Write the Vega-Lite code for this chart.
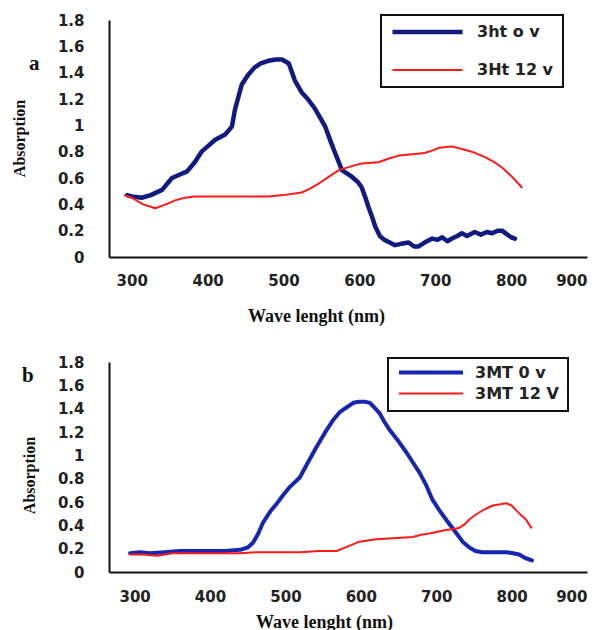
{
  "$schema": "https://vega.github.io/schema/vega-lite/v6.json",
  "background": "white",
  "padding": {"left": 10, "top": 13, "right": 5, "bottom": 5},
  "bounds": "flush",
  "spacing": 105,
  "config": {
    "view": {"stroke": null},
    "axis": {
      "grid": false,
      "ticks": false,
      "domainColor": "#111111",
      "domainWidth": 2,
      "labelFont": "DejaVu Sans",
      "labelFontWeight": "bold",
      "labelFontSize": 15,
      "labelColor": "#222222",
      "titleFont": "Liberation Serif",
      "titleFontWeight": "bold",
      "titleColor": "#111111"
    },
    "legend": {
      "labelFont": "DejaVu Sans",
      "labelFontWeight": "bold",
      "labelFontSize": 16,
      "labelColor": "#222222",
      "strokeWidth": 2
    }
  },
  "resolve": {
    "scale": {"x": "independent", "y": "independent", "color": "independent", "strokeWidth": "independent"},
    "legend": {"color": "independent", "strokeWidth": "independent"}
  },
  "datasets": {
    "A": [
      {"s": "3ht o v", "w": 294, "v": 0.47}, {"s": "3ht o v", "w": 300, "v": 0.46}, {"s": "3ht o v", "w": 313, "v": 0.45},
      {"s": "3ht o v", "w": 325, "v": 0.47}, {"s": "3ht o v", "w": 340, "v": 0.51}, {"s": "3ht o v", "w": 353, "v": 0.60},
      {"s": "3ht o v", "w": 365, "v": 0.63}, {"s": "3ht o v", "w": 373, "v": 0.65}, {"s": "3ht o v", "w": 383, "v": 0.72},
      {"s": "3ht o v", "w": 392, "v": 0.80}, {"s": "3ht o v", "w": 400, "v": 0.84}, {"s": "3ht o v", "w": 410, "v": 0.89},
      {"s": "3ht o v", "w": 423, "v": 0.93}, {"s": "3ht o v", "w": 432, "v": 0.99}, {"s": "3ht o v", "w": 436, "v": 1.12},
      {"s": "3ht o v", "w": 445, "v": 1.31}, {"s": "3ht o v", "w": 453, "v": 1.38}, {"s": "3ht o v", "w": 462, "v": 1.44},
      {"s": "3ht o v", "w": 470, "v": 1.47}, {"s": "3ht o v", "w": 480, "v": 1.49}, {"s": "3ht o v", "w": 490, "v": 1.50},
      {"s": "3ht o v", "w": 498, "v": 1.50}, {"s": "3ht o v", "w": 507, "v": 1.47}, {"s": "3ht o v", "w": 515, "v": 1.34},
      {"s": "3ht o v", "w": 524, "v": 1.25}, {"s": "3ht o v", "w": 532, "v": 1.20}, {"s": "3ht o v", "w": 541, "v": 1.13},
      {"s": "3ht o v", "w": 548, "v": 1.06}, {"s": "3ht o v", "w": 555, "v": 0.99}, {"s": "3ht o v", "w": 562, "v": 0.88},
      {"s": "3ht o v", "w": 568, "v": 0.79}, {"s": "3ht o v", "w": 577, "v": 0.66}, {"s": "3ht o v", "w": 585, "v": 0.63},
      {"s": "3ht o v", "w": 590, "v": 0.61}, {"s": "3ht o v", "w": 598, "v": 0.57}, {"s": "3ht o v", "w": 603, "v": 0.53},
      {"s": "3ht o v", "w": 608, "v": 0.45}, {"s": "3ht o v", "w": 612, "v": 0.38}, {"s": "3ht o v", "w": 617, "v": 0.30},
      {"s": "3ht o v", "w": 621, "v": 0.23}, {"s": "3ht o v", "w": 627, "v": 0.16}, {"s": "3ht o v", "w": 633, "v": 0.13},
      {"s": "3ht o v", "w": 640, "v": 0.11}, {"s": "3ht o v", "w": 647, "v": 0.09}, {"s": "3ht o v", "w": 655, "v": 0.10},
      {"s": "3ht o v", "w": 665, "v": 0.11}, {"s": "3ht o v", "w": 672, "v": 0.08}, {"s": "3ht o v", "w": 678, "v": 0.08},
      {"s": "3ht o v", "w": 686, "v": 0.11}, {"s": "3ht o v", "w": 696, "v": 0.14}, {"s": "3ht o v", "w": 703, "v": 0.13},
      {"s": "3ht o v", "w": 709, "v": 0.15}, {"s": "3ht o v", "w": 716, "v": 0.12}, {"s": "3ht o v", "w": 722, "v": 0.14},
      {"s": "3ht o v", "w": 729, "v": 0.16}, {"s": "3ht o v", "w": 735, "v": 0.18}, {"s": "3ht o v", "w": 742, "v": 0.16},
      {"s": "3ht o v", "w": 752, "v": 0.19}, {"s": "3ht o v", "w": 760, "v": 0.17}, {"s": "3ht o v", "w": 768, "v": 0.19},
      {"s": "3ht o v", "w": 775, "v": 0.18}, {"s": "3ht o v", "w": 782, "v": 0.20}, {"s": "3ht o v", "w": 788, "v": 0.20},
      {"s": "3ht o v", "w": 795, "v": 0.17}, {"s": "3ht o v", "w": 800, "v": 0.15}, {"s": "3ht o v", "w": 805, "v": 0.14},
      {"s": "3Ht 12 v", "w": 291, "v": 0.47}, {"s": "3Ht 12 v", "w": 300, "v": 0.45}, {"s": "3Ht 12 v", "w": 315, "v": 0.40},
      {"s": "3Ht 12 v", "w": 331, "v": 0.37}, {"s": "3Ht 12 v", "w": 345, "v": 0.40}, {"s": "3Ht 12 v", "w": 357, "v": 0.43},
      {"s": "3Ht 12 v", "w": 370, "v": 0.45}, {"s": "3Ht 12 v", "w": 383, "v": 0.46}, {"s": "3Ht 12 v", "w": 410, "v": 0.46},
      {"s": "3Ht 12 v", "w": 436, "v": 0.46}, {"s": "3Ht 12 v", "w": 460, "v": 0.46}, {"s": "3Ht 12 v", "w": 480, "v": 0.46},
      {"s": "3Ht 12 v", "w": 500, "v": 0.47}, {"s": "3Ht 12 v", "w": 524, "v": 0.49}, {"s": "3Ht 12 v", "w": 535, "v": 0.52},
      {"s": "3Ht 12 v", "w": 547, "v": 0.56}, {"s": "3Ht 12 v", "w": 560, "v": 0.61}, {"s": "3Ht 12 v", "w": 573, "v": 0.66},
      {"s": "3Ht 12 v", "w": 590, "v": 0.69}, {"s": "3Ht 12 v", "w": 603, "v": 0.71}, {"s": "3Ht 12 v", "w": 625, "v": 0.72},
      {"s": "3Ht 12 v", "w": 640, "v": 0.75}, {"s": "3Ht 12 v", "w": 652, "v": 0.77}, {"s": "3Ht 12 v", "w": 670, "v": 0.78},
      {"s": "3Ht 12 v", "w": 686, "v": 0.79}, {"s": "3Ht 12 v", "w": 697, "v": 0.81}, {"s": "3Ht 12 v", "w": 705, "v": 0.83},
      {"s": "3Ht 12 v", "w": 722, "v": 0.84}, {"s": "3Ht 12 v", "w": 735, "v": 0.82}, {"s": "3Ht 12 v", "w": 748, "v": 0.80},
      {"s": "3Ht 12 v", "w": 765, "v": 0.76}, {"s": "3Ht 12 v", "w": 778, "v": 0.72}, {"s": "3Ht 12 v", "w": 788, "v": 0.68},
      {"s": "3Ht 12 v", "w": 801, "v": 0.61}, {"s": "3Ht 12 v", "w": 814, "v": 0.53}
    ],
    "B": [
      {"s": "3MT 0 v", "w": 294, "v": 0.16}, {"s": "3MT 0 v", "w": 307, "v": 0.17}, {"s": "3MT 0 v", "w": 320, "v": 0.16},
      {"s": "3MT 0 v", "w": 340, "v": 0.17}, {"s": "3MT 0 v", "w": 360, "v": 0.18}, {"s": "3MT 0 v", "w": 400, "v": 0.18},
      {"s": "3MT 0 v", "w": 420, "v": 0.18}, {"s": "3MT 0 v", "w": 440, "v": 0.19}, {"s": "3MT 0 v", "w": 450, "v": 0.21},
      {"s": "3MT 0 v", "w": 457, "v": 0.25}, {"s": "3MT 0 v", "w": 464, "v": 0.33}, {"s": "3MT 0 v", "w": 470, "v": 0.42},
      {"s": "3MT 0 v", "w": 480, "v": 0.52}, {"s": "3MT 0 v", "w": 489, "v": 0.59}, {"s": "3MT 0 v", "w": 497, "v": 0.66},
      {"s": "3MT 0 v", "w": 506, "v": 0.73}, {"s": "3MT 0 v", "w": 519, "v": 0.81}, {"s": "3MT 0 v", "w": 530, "v": 0.94},
      {"s": "3MT 0 v", "w": 541, "v": 1.07}, {"s": "3MT 0 v", "w": 552, "v": 1.19}, {"s": "3MT 0 v", "w": 563, "v": 1.30},
      {"s": "3MT 0 v", "w": 572, "v": 1.37}, {"s": "3MT 0 v", "w": 581, "v": 1.41}, {"s": "3MT 0 v", "w": 590, "v": 1.45},
      {"s": "3MT 0 v", "w": 598, "v": 1.46}, {"s": "3MT 0 v", "w": 605, "v": 1.46}, {"s": "3MT 0 v", "w": 612, "v": 1.45},
      {"s": "3MT 0 v", "w": 618, "v": 1.41}, {"s": "3MT 0 v", "w": 625, "v": 1.36}, {"s": "3MT 0 v", "w": 631, "v": 1.29},
      {"s": "3MT 0 v", "w": 638, "v": 1.22}, {"s": "3MT 0 v", "w": 650, "v": 1.12}, {"s": "3MT 0 v", "w": 661, "v": 1.02},
      {"s": "3MT 0 v", "w": 670, "v": 0.93}, {"s": "3MT 0 v", "w": 678, "v": 0.85}, {"s": "3MT 0 v", "w": 687, "v": 0.74},
      {"s": "3MT 0 v", "w": 695, "v": 0.62}, {"s": "3MT 0 v", "w": 704, "v": 0.53}, {"s": "3MT 0 v", "w": 713, "v": 0.45},
      {"s": "3MT 0 v", "w": 720, "v": 0.39}, {"s": "3MT 0 v", "w": 727, "v": 0.33}, {"s": "3MT 0 v", "w": 735, "v": 0.26},
      {"s": "3MT 0 v", "w": 744, "v": 0.21}, {"s": "3MT 0 v", "w": 752, "v": 0.18}, {"s": "3MT 0 v", "w": 761, "v": 0.17},
      {"s": "3MT 0 v", "w": 775, "v": 0.17}, {"s": "3MT 0 v", "w": 793, "v": 0.17}, {"s": "3MT 0 v", "w": 802, "v": 0.16},
      {"s": "3MT 0 v", "w": 810, "v": 0.15}, {"s": "3MT 0 v", "w": 818, "v": 0.12}, {"s": "3MT 0 v", "w": 827, "v": 0.10},
      {"s": "3MT 12 V", "w": 294, "v": 0.15}, {"s": "3MT 12 V", "w": 310, "v": 0.15}, {"s": "3MT 12 V", "w": 330, "v": 0.14},
      {"s": "3MT 12 V", "w": 350, "v": 0.16}, {"s": "3MT 12 V", "w": 380, "v": 0.16}, {"s": "3MT 12 V", "w": 410, "v": 0.16},
      {"s": "3MT 12 V", "w": 440, "v": 0.16}, {"s": "3MT 12 V", "w": 460, "v": 0.17}, {"s": "3MT 12 V", "w": 490, "v": 0.17},
      {"s": "3MT 12 V", "w": 519, "v": 0.17}, {"s": "3MT 12 V", "w": 545, "v": 0.18}, {"s": "3MT 12 V", "w": 568, "v": 0.18},
      {"s": "3MT 12 V", "w": 583, "v": 0.22}, {"s": "3MT 12 V", "w": 598, "v": 0.26}, {"s": "3MT 12 V", "w": 620, "v": 0.28},
      {"s": "3MT 12 V", "w": 642, "v": 0.29}, {"s": "3MT 12 V", "w": 669, "v": 0.30}, {"s": "3MT 12 V", "w": 680, "v": 0.32},
      {"s": "3MT 12 V", "w": 691, "v": 0.33}, {"s": "3MT 12 V", "w": 713, "v": 0.36}, {"s": "3MT 12 V", "w": 725, "v": 0.37},
      {"s": "3MT 12 V", "w": 731, "v": 0.38}, {"s": "3MT 12 V", "w": 738, "v": 0.41}, {"s": "3MT 12 V", "w": 744, "v": 0.45},
      {"s": "3MT 12 V", "w": 750, "v": 0.48}, {"s": "3MT 12 V", "w": 757, "v": 0.51}, {"s": "3MT 12 V", "w": 765, "v": 0.54},
      {"s": "3MT 12 V", "w": 775, "v": 0.57}, {"s": "3MT 12 V", "w": 785, "v": 0.58}, {"s": "3MT 12 V", "w": 793, "v": 0.59},
      {"s": "3MT 12 V", "w": 800, "v": 0.57}, {"s": "3MT 12 V", "w": 806, "v": 0.53}, {"s": "3MT 12 V", "w": 812, "v": 0.49},
      {"s": "3MT 12 V", "w": 819, "v": 0.45}, {"s": "3MT 12 V", "w": 826, "v": 0.38}
    ]
  },
  "vconcat": [
    {
      "width": 478,
      "height": 237,
      "title": {"text": "a", "orient": "top", "anchor": "start", "frame": "group", "offset": 0, "dx": -80, "dy": 61, "font": "Liberation Serif", "fontWeight": "bold", "fontSize": 21, "color": "#111111"},
      "data": {"name": "A"},
      "mark": {"type": "line", "strokeJoin": "round", "strokeCap": "round"},
      "encoding": {
        "x": {"field": "w", "type": "quantitative", "scale": {"domain": [270, 900], "nice": false, "zero": false},
          "axis": {"values": [300, 400, 500, 600, 700, 800, 900], "labelPadding": 16, "title": "Wave lenght (nm)", "titleFontSize": 18, "titleX": 207, "titleY": 50, "titleAlign": "center", "titleBaseline": "top"}},
        "y": {"field": "v", "type": "quantitative", "scale": {"domain": [0, 1.8], "nice": false},
          "axis": {"values": [0, 0.2, 0.4, 0.6, 0.8, 1, 1.2, 1.4, 1.6, 1.8], "format": ".1~f", "labelPadding": 25, "title": "Absorption", "titleFontSize": 16, "titleX": -90, "titleY": 118, "titleAngle": -90, "titleAlign": "center", "titleBaseline": "middle"}},
        "color": {"field": "s", "type": "nominal", "scale": {"domain": ["3ht o v", "3Ht 12 v"], "range": ["#101a80", "#ff1a1a"]},
          "legend": {"orient": "none", "legendX": 272, "legendY": -5, "title": null, "symbolType": "stroke", "symbolSize": 4900, "clipHeight": 16, "rowPadding": 22, "padding": 9, "labelOffset": 12, "strokeColor": "#111111", "fillColor": "white"}},
        "strokeWidth": {"field": "s", "type": "nominal", "scale": {"domain": ["3ht o v", "3Ht 12 v"], "range": [4.5, 2]}, "legend": {"orient": "none", "legendX": 272, "legendY": -5, "title": null, "symbolType": "stroke", "symbolSize": 4900, "clipHeight": 16, "rowPadding": 22, "padding": 9, "labelOffset": 12, "strokeColor": "#111111", "fillColor": "white"}}
      }
    },
    {
      "width": 478,
      "height": 210,
      "title": {"text": "b", "orient": "top", "anchor": "start", "frame": "group", "offset": 0, "dx": -87, "dy": 31, "font": "Liberation Serif", "fontWeight": "bold", "fontSize": 21, "color": "#111111"},
      "data": {"name": "B"},
      "mark": {"type": "line", "strokeJoin": "round", "strokeCap": "round"},
      "encoding": {
        "x": {"field": "w", "type": "quantitative", "scale": {"domain": [266, 900], "nice": false, "zero": false},
          "axis": {"values": [300, 400, 500, 600, 700, 800, 900], "labelPadding": 17, "title": "Wave lenght (nm)", "titleFontSize": 18, "titleX": 215, "titleY": 41, "titleAlign": "center", "titleBaseline": "top"}},
        "y": {"field": "v", "type": "quantitative", "scale": {"domain": [0, 1.8], "nice": false},
          "axis": {"values": [0, 0.2, 0.4, 0.6, 0.8, 1, 1.2, 1.4, 1.6, 1.8], "format": ".1~f", "labelPadding": 25, "title": "Absorption", "titleFontSize": 16, "titleX": -80, "titleY": 113, "titleAngle": -90, "titleAlign": "center", "titleBaseline": "middle"}},
        "color": {"field": "s", "type": "nominal", "scale": {"domain": ["3MT 0 v", "3MT 12 V"], "range": ["#1626b0", "#ff1a1a"]},
          "legend": {"orient": "none", "legendX": 279, "legendY": -4, "title": null, "symbolType": "stroke", "symbolSize": 4096, "clipHeight": 11, "rowPadding": 4, "padding": 9, "labelOffset": 10, "strokeColor": "#111111", "fillColor": "white"}},
        "strokeWidth": {"field": "s", "type": "nominal", "scale": {"domain": ["3MT 0 v", "3MT 12 V"], "range": [4, 2]}, "legend": {"orient": "none", "legendX": 279, "legendY": -4, "title": null, "symbolType": "stroke", "symbolSize": 4096, "clipHeight": 11, "rowPadding": 4, "padding": 9, "labelOffset": 10, "strokeColor": "#111111", "fillColor": "white"}}
      }
    }
  ]
}
